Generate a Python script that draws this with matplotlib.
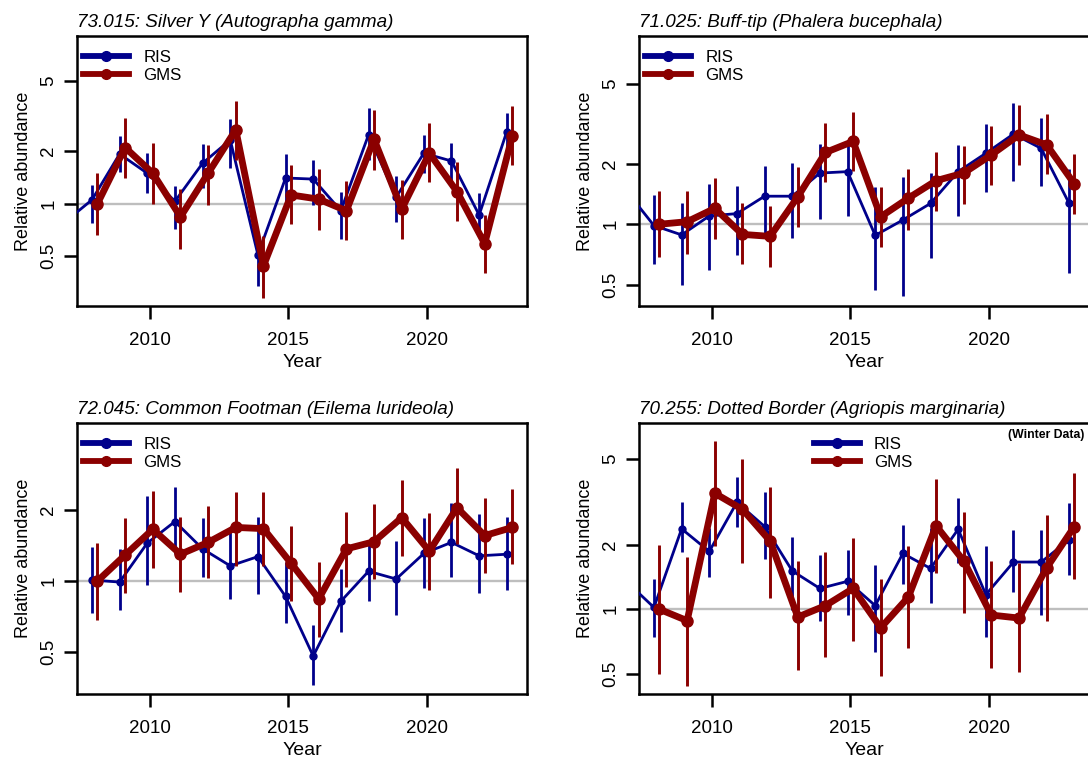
import numpy as np
import matplotlib
matplotlib.use("Agg")
import matplotlib.pyplot as plt
from matplotlib.lines import Line2D

plt.rcParams['font.family'] = ['Liberation Sans', 'DejaVu Sans']

# ---------------- data ----------------
years_ris_ext = list(range(2007, 2024))
years = list(range(2008, 2024))

# Panel 1: Silver Y
silver_title = "73.015: Silver Y (Autographa gamma)"
silver_ris = [0.78, 1.05, 1.92, 1.49, 1.03, 1.70, 2.31, 0.51, 1.40, 1.38, 0.91, 2.47, 1.09, 1.94, 1.75, 0.86, 2.58]
silver_ris_lo = [0.60, 0.77, 1.52, 1.15, 0.72, 1.22, 1.59, 0.34, 1.00, 0.98, 0.63, 1.78, 0.78, 1.49, 1.25, 0.68, 1.90]
silver_ris_hi = [1.00, 1.28, 2.44, 1.94, 1.26, 2.19, 3.03, 0.63, 1.91, 1.78, 1.16, 3.53, 1.44, 2.47, 2.21, 1.15, 3.31]
silver_gms = [1.00, 2.09, 1.49, 0.84, 1.49, 2.64, 0.44, 1.12, 1.06, 0.91, 2.33, 0.93, 1.94, 1.17, 0.59, 2.44]
silver_gms_lo = [0.66, 1.40, 1.00, 0.55, 0.98, 1.78, 0.29, 0.76, 0.71, 0.62, 1.56, 0.63, 1.32, 0.79, 0.40, 1.66]
silver_gms_hi = [1.49, 3.07, 2.21, 1.21, 2.17, 3.86, 0.65, 1.66, 1.57, 1.34, 3.43, 1.37, 2.88, 1.72, 0.86, 3.61]

# Panel 2: Buff-tip
buff_title = "71.025: Buff-tip (Phalera bucephala)"
buff_ris = [1.47, 0.985, 0.885, 1.10, 1.13, 1.38, 1.38, 1.80, 1.83, 0.88, 1.05, 1.27, 1.83, 2.26, 2.82, 2.39, 1.28]
buff_ris_lo = [1.00, 0.63, 0.50, 0.59, 0.70, 0.86, 0.85, 1.06, 1.10, 0.47, 0.44, 0.68, 1.10, 1.44, 1.65, 1.55, 0.57]
buff_ris_hi = [2.10, 1.40, 1.28, 1.58, 1.55, 1.96, 2.03, 2.52, 2.64, 1.53, 1.72, 1.80, 2.49, 3.16, 4.02, 3.38, 1.88]
buff_gms = [1.00, 1.03, 1.20, 0.89, 0.87, 1.37, 2.28, 2.59, 1.09, 1.35, 1.65, 1.80, 2.22, 2.79, 2.49, 1.59]
buff_gms_lo = [0.69, 0.71, 0.84, 0.63, 0.61, 0.97, 1.63, 1.85, 0.77, 0.94, 1.17, 1.26, 1.57, 1.98, 1.78, 1.13]
buff_gms_hi = [1.46, 1.46, 1.70, 1.27, 1.23, 1.94, 3.21, 3.65, 1.54, 1.88, 2.30, 2.46, 3.10, 3.93, 3.53, 2.25]

# Panel 3: Common Footman
foot_title = "72.045: Common Footman (Eilema lurideola)"
foot_ris = [1.01, 0.99, 1.45, 1.79, 1.37, 1.16, 1.27, 0.86, 0.48, 0.82, 1.10, 1.02, 1.31, 1.46, 1.28, 1.30]
foot_ris_lo = [0.73, 0.75, 0.96, 1.30, 1.04, 0.84, 0.88, 0.66, 0.36, 0.61, 0.82, 0.72, 0.93, 1.04, 0.89, 0.92]
foot_ris_hi = [1.39, 1.37, 2.30, 2.50, 1.86, 1.62, 1.88, 1.20, 0.65, 1.13, 1.50, 1.48, 1.85, 2.15, 1.92, 1.88]
foot_gms = [1.00, 1.29, 1.66, 1.30, 1.46, 1.69, 1.67, 1.19, 0.84, 1.37, 1.47, 1.86, 1.34, 2.05, 1.56, 1.69]
foot_gms_lo = [0.68, 0.89, 1.14, 0.90, 1.03, 1.16, 1.16, 0.82, 0.58, 0.94, 1.02, 1.28, 0.92, 1.44, 1.08, 1.18]
foot_gms_hi = [1.45, 1.86, 2.41, 1.88, 2.09, 2.40, 2.40, 1.72, 1.21, 1.97, 2.12, 2.70, 1.94, 3.01, 2.26, 2.46]

# Panel 4: Dotted Border (winter data)
dot_title = "70.255: Dotted Border (Agriopis marginaria)"
dot_ris = [1.35, 1.02, 2.37, 1.86, 3.15, 2.43, 1.51, 1.25, 1.35, 1.04, 1.82, 1.55, 2.36, 1.17, 1.66, 1.66, 2.10]
dot_ris_lo = [0.95, 0.74, 1.84, 1.42, 2.43, 1.71, 0.99, 0.88, 0.94, 0.63, 1.31, 1.07, 1.65, 0.74, 1.20, 0.94, 1.45]
dot_ris_hi = [1.90, 1.38, 3.15, 2.40, 4.12, 3.50, 2.17, 1.79, 1.89, 1.61, 2.47, 2.38, 3.29, 1.97, 2.34, 2.34, 3.14]
dot_gms = [1.00, 0.885, 3.47, 2.92, 2.08, 0.92, 1.04, 1.25, 0.82, 1.14, 2.45, 1.68, 0.94, 0.91, 1.56, 2.43]
dot_gms_lo = [0.50, 0.44, 1.97, 1.65, 1.13, 0.52, 0.60, 0.71, 0.49, 0.66, 1.47, 0.96, 0.53, 0.51, 0.88, 1.38]
dot_gms_hi = [1.99, 1.75, 6.09, 5.02, 3.70, 1.67, 1.84, 2.14, 1.39, 1.98, 4.05, 2.85, 1.67, 1.64, 2.75, 4.30]

y_ticks = [0.5, 1, 2, 5]
y_ticklabels = ["0.5", "1", "2", "5"]
x_ticks = [2010, 2015, 2020]

# ---------------- styling ----------------
RIS_COL = "#00008B"
GMS_COL = "#8B0000"
W, H = 1088, 758

fig = plt.figure(figsize=(W / 100, H / 100), dpi=100)


def make_ax(left, right, top, bottom):
    return fig.add_axes([left / W, 1 - bottom / H, (right - left) / W, (bottom - top) / H])


panels = [
    dict(box=(77.3, 527.0, 36.0, 306.0), ylim=(0.260, 9.06), title=silver_title,
         ris_years=years_ris_ext, ris=silver_ris, ris_lo=silver_ris_lo, ris_hi=silver_ris_hi,
         gms=silver_gms, gms_lo=silver_gms_lo, gms_hi=silver_gms_hi, leg_x=0.013, note=None),
    dict(box=(639.3, 1089.0, 36.0, 306.0), ylim=(0.391, 8.69), title=buff_title,
         ris_years=years_ris_ext, ris=buff_ris, ris_lo=buff_ris_lo, ris_hi=buff_ris_hi,
         gms=buff_gms, gms_lo=buff_gms_lo, gms_hi=buff_gms_hi, leg_x=0.013, note=None),
    dict(box=(77.3, 527.0, 422.7, 694.0), ylim=(0.331, 4.71), title=foot_title,
         ris_years=years, ris=foot_ris, ris_lo=foot_ris_lo, ris_hi=foot_ris_hi,
         gms=foot_gms, gms_lo=foot_gms_lo, gms_hi=foot_gms_hi, leg_x=0.013, note=None),
    dict(box=(639.3, 1089.0, 422.7, 694.0), ylim=(0.403, 7.40), title=dot_title,
         ris_years=years_ris_ext, ris=dot_ris, ris_lo=dot_ris_lo, ris_hi=dot_ris_hi,
         gms=dot_gms, gms_lo=dot_gms_lo, gms_hi=dot_gms_hi, leg_x=0.388, note="(Winter Data)"),
]

for p in panels:
    ax = make_ax(*p["box"])
    ax.set_yscale("log")

    ax.axhline(1, color="#BEBEBE", lw=1.7, zorder=1)

    xr = np.array(p["ris_years"]) - 0.1
    xg = np.array(years) + 0.1
    ax.vlines(xr, p["ris_lo"], p["ris_hi"], color=RIS_COL, lw=2.0, zorder=2)
    ax.plot(xr, p["ris"], color=RIS_COL, lw=2.0, marker="o", ms=5, zorder=3)
    ax.vlines(xg, p["gms_lo"], p["gms_hi"], color=GMS_COL, lw=2.1, zorder=4)
    ax.plot(xg, p["gms"], color=GMS_COL, lw=4.9, marker="o", ms=8, zorder=5,
            solid_joinstyle="round")

    ax.set_xticks(x_ticks)
    ax.set_xticklabels([str(t) for t in x_ticks])
    ax.yaxis.set_minor_locator(matplotlib.ticker.NullLocator())
    ax.set_yticks(y_ticks)
    ax.set_yticklabels(y_ticklabels)
    ax.set_xlim(2007.37, 2023.63)
    ax.set_ylim(*p["ylim"])
    ax.tick_params(axis="both", direction="out", length=9.5, width=1.8, labelsize=13.5)
    ax.tick_params(axis="x", pad=9.5)
    ax.tick_params(axis="y", pad=5, labelrotation=90)
    for lab in ax.get_yticklabels():
        lab.set_va("center")
        lab.set_ha("right")
    for s in ax.spines.values():
        s.set_linewidth(1.8)

    ax.set_xlabel("Year", fontsize=14, labelpad=3)
    ax.set_ylabel("Relative abundance", fontsize=13, va="center")
    ax.yaxis.set_label_coords(-0.12, 0.5)
    ax.set_title(p["title"], loc="left", fontsize=13.6, style="italic", pad=6.5)

    handles = [Line2D([], [], color=RIS_COL, lw=4.2, marker="o", ms=7),
               Line2D([], [], color=GMS_COL, lw=4.2, marker="o", ms=7)]
    ax.legend(handles, ["RIS", "GMS"], loc="upper left", bbox_to_anchor=(p["leg_x"], 0.948),
              frameon=False, fontsize=12.2, handlelength=2.7, handletextpad=0.85,
              labelspacing=0.18, borderpad=0, borderaxespad=0)
    if p["note"]:
        ax.text(0.989, 0.955, p["note"], transform=ax.transAxes, ha="right", va="center",
                fontsize=8.8, fontweight="bold")

fig.savefig("out.png", dpi=100)
